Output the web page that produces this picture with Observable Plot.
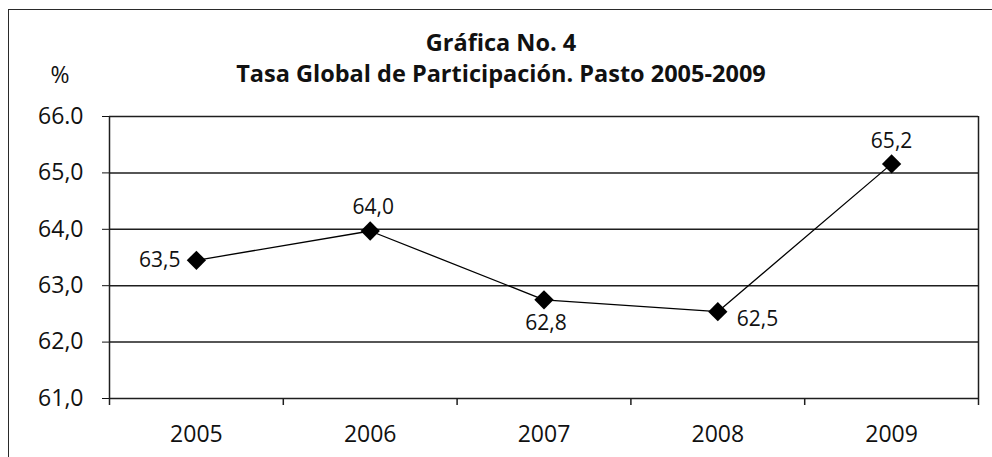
<!DOCTYPE html>
<html>
<head>
<meta charset="utf-8">
<script src="https://cdn.jsdelivr.net/npm/d3@7"></script>
<script src="https://cdn.jsdelivr.net/npm/@observablehq/plot@0.6"></script>
<style>
  html, body { margin: 0; padding: 0; background: #fff; }
  #wrap { position: relative; width: 992px; height: 457px; overflow: hidden; background: #fff; }
  #chart { position: absolute; left: 0; top: 0; }
  .frame { position: absolute; left: 8px; top: 9px; width: 1100px; height: 600px;
           border-left: 1.5px solid #2a2a2a; border-top: 1.5px solid #2a2a2a; }
  .title { position: absolute; left: 8px; width: 986px; text-align: center;
           font-family: 'Open Sans', sans-serif; font-weight: 700; font-size: 23.5px;
           line-height: 31px; color: #111; white-space: nowrap; }
  .unit { position: absolute; left: 30px; width: 60px; text-align: center; top: 58.6px;
          font-family: 'Open Sans', sans-serif; font-size: 23px; line-height: 31px; color: #111; }
</style>
</head>
<body>
<div id="wrap">
  <div id="chart"></div>
  <div class="frame"></div>
  <div class="title" style="top:27.4px">Gráfica No. 4</div>
  <div class="title" style="top:58.4px">Tasa Global de Participación. Pasto 2005-2009</div>
  <div class="unit">%</div>
</div>
<script>
const years = ["2005", "2006", "2007", "2008", "2009"];
const values = [63.45, 63.97, 62.75, 62.54, 65.16];
const valueLabels = ["63,5", "64,0", "62,8", "62,5", "65,2"];
const yTicks = [61, 62, 63, 64, 65, 66];
const yTickLabels = ["61,0", "62,0", "63,0", "64,0", "65,0", "66.0"];

const data = years.map((y, i) => ({year: y, pos: i + 0.5, value: values[i], label: valueLabels[i]}));
const boundaries = d3.range(years.length + 1);

const ink = "#1e1e1e";
const labelStyle = {x: "pos", y: "value", text: "label", fontSize: 21, fill: "#111"};

const chart = Plot.plot({
  width: 992,
  height: 457,
  marginLeft: 109,
  marginRight: 14,
  marginTop: 116,
  marginBottom: 59,
  style: {fontFamily: "'Open Sans', sans-serif", fontSize: "23px", color: "#111", background: "transparent", maxWidth: "none"},
  x: {domain: [0, years.length], ticks: data.map(d => d.pos), tickFormat: d => years[Math.floor(d)], tickSize: 0, tickPadding: 27, label: null},
  y: {domain: [61, 66], ticks: yTicks, tickFormat: d => yTickLabels[yTicks.indexOf(d)], tickSize: 7, tickPadding: 19, label: null},
  marks: [
    Plot.ruleY(yTicks, {stroke: ink, strokeWidth: 1.5}),
    Plot.ruleX(boundaries, {y1: 61, y2: 61, insetBottom: -7, stroke: ink, strokeWidth: 1.5}),
    Plot.ruleX([0, years.length], {stroke: ink, strokeWidth: 1.5}),
    Plot.line(data, {x: "pos", y: "value", stroke: "#000", strokeWidth: 1.3}),
    Plot.dot(data, {x: "pos", y: "value", symbol: "diamond2", r: 8.7, fill: "#000", stroke: "none"}),
    Plot.text(data, {...labelStyle, filter: d => d.year === "2005", textAnchor: "end", dx: -16}),
    Plot.text(data, {...labelStyle, filter: d => d.year === "2006", dx: 3, dy: -24}),
    Plot.text(data, {...labelStyle, filter: d => d.year === "2007", dx: 2, dy: 23}),
    Plot.text(data, {...labelStyle, filter: d => d.year === "2008", textAnchor: "start", dx: 19, dy: 8}),
    Plot.text(data, {...labelStyle, filter: d => d.year === "2009", dy: -23})
  ]
});
document.getElementById("chart").appendChild(chart);
</script>
</body>
</html>
